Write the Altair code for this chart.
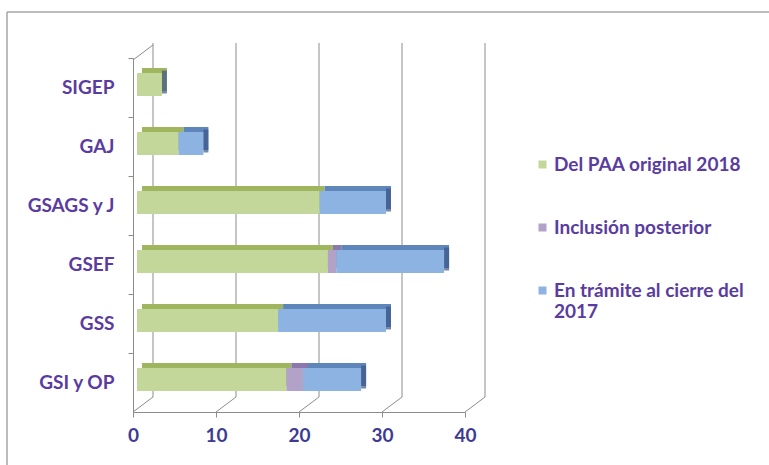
import altair as alt
import pandas as pd

categories = ["SIGEP", "GAJ", "GSAGS y J", "GSEF", "GSS", "GSI y OP"]
series = ["Del PAA original 2018", "Inclusión posterior", "En trámite al cierre del 2017"]
paa_original = [3, 5, 22, 23, 17, 18]
inclusion_posterior = [0, 0, 0, 1, 0, 2]
en_tramite = [0, 3, 8, 13, 13, 7]
x_ticks = [0, 10, 20, 30, 40]

front_colors = ["#c4d79b", "#b3a2c7", "#8db3e2"]
top_colors = ["#9fb55e", "#8c78ad", "#5f86ba"]
cap_color = "#3d5687"
text_color = "#5a3ca0"
FONT = "Lato"

rows = []
for i, c in enumerate(categories):
    for k, (s, vals) in enumerate(zip(series, [paa_original, inclusion_posterior, en_tramite])):
        rows.append({"cat": c, "serie": s, "val": vals[i], "ord": k})
df = pd.DataFrame(rows)
totals = pd.DataFrame({
    "cat": categories,
    "total": [a + b + c for a, b, c in zip(paa_original, inclusion_posterior, en_tramite)],
})
ticks_df = pd.DataFrame({"t": x_ticks})

W, H = 332, 354
DX, DY = 20, -15      # depth of back wall
BX, BY = 4, -3        # bar plane offset
EX, EY = 5, -5        # bar extrusion

xscale = alt.Scale(domain=[0, 40], nice=False, zero=True)
yscale = alt.Scale(domain=categories, paddingInner=0, paddingOuter=0)

# frame border
frame_top = alt.Chart(ticks_df.head(1)).mark_rule(color="#a6a6a6", strokeWidth=1.5).encode(
    x=alt.value(-126), x2=alt.value(W + 400), y=alt.value(-46))
frame_left = alt.Chart(ticks_df.head(1)).mark_rule(color="#a6a6a6", strokeWidth=1.5).encode(
    x=alt.value(-126), y=alt.value(-46), y2=alt.value(H + 80))

# back wall gridlines
back_grid = alt.Chart(ticks_df).mark_rule(color="#8c8c8c", strokeWidth=1, xOffset=DX).encode(
    x=alt.X("t:Q", scale=xscale),
    y=alt.value(DY),
    y2=alt.value(H + DY),
)
# floor diagonals
floor_diag = alt.Chart(ticks_df).mark_rule(color="#8c8c8c", strokeWidth=1, x2Offset=DX).encode(
    x=alt.X("t:Q", scale=xscale),
    x2="t:Q",
    y=alt.value(H),
    y2=alt.value(H + DY),
)
top_diag = alt.Chart(ticks_df.head(1)).mark_rule(color="#8c8c8c", strokeWidth=1).encode(
    x=alt.value(0), x2=alt.value(DX), y=alt.value(2), y2=alt.value(2 + DY))

color_back = alt.Color("serie:N", scale=alt.Scale(domain=series, range=top_colors), legend=None)
color_front = alt.Color(
    "serie:N",
    scale=alt.Scale(domain=series, range=front_colors),
    legend=alt.Legend(
        title=None,
        orient="none",
        legendX=400,
        legendY=97,
        symbolType="square",
        symbolSize=64,
        symbolStrokeWidth=0,
        labelFont=FONT,
        labelFontSize=19,
        labelFontWeight="bold",
        labelColor=text_color,
        labelOffset=2,
        labelLimit=300,
        rowPadding=43,
        padding=0,
        labelExpr="datum.label == 'En trámite al cierre del 2017' ? ['En trámite al cierre del', '2017'] : datum.label",
    ),
)

base = alt.Chart(df)
y_enc = alt.Y(
    "cat:N",
    scale=yscale,
    sort=categories,
    axis=alt.Axis(
        title=None,
        labelFont=FONT,
        labelFontSize=19,
        labelFontWeight="bold",
        labelColor=text_color,
        labelPadding=14,
        tickSize=5,
        tickColor="#8c8c8c",
        domainColor="#8c8c8c",
        bandPosition=0,
        grid=False,
    ),
)
x_enc = alt.X(
    "sum(val):Q",
    scale=xscale,
    stack="zero",
    axis=alt.Axis(
        title=None,
        values=x_ticks,
        labelFont=FONT,
        labelFontSize=19,
        labelFontWeight="bold",
        labelColor="#3d3a94",
        labelPadding=9,
        labelFlush=False,
        tickSize=5,
        tickColor="#8c8c8c",
        domainColor="#8c8c8c",
        grid=False,
    ),
)

bars_back = base.mark_bar(
    size=23, xOffset=BX + EX, x2Offset=BX + EX, yOffset=BY + EY, y2Offset=BY + EY
).encode(
    x=x_enc, y=y_enc, color=color_back, order=alt.Order("ord:Q")
)
caps = alt.Chart(totals).mark_tick(
    orient="vertical", thickness=EX, size=23, color=cap_color,
    xOffset=BX + EX / 2, yOffset=BY + EY / 2,
).encode(
    x=alt.X("total:Q", scale=xscale),
    y=alt.Y("cat:N", scale=yscale, sort=categories),
)
bars_front = base.mark_bar(
    size=23, xOffset=BX, x2Offset=BX, yOffset=BY, y2Offset=BY
).encode(
    x=x_enc, y=y_enc, color=color_front, order=alt.Order("ord:Q")
)

chart = alt.layer(
    frame_top, frame_left, back_grid, floor_diag, top_diag, bars_back, caps, bars_front
).resolve_scale(color="independent").properties(
    width=W,
    height=H,
    autosize=alt.AutoSizeParams(type="none"),
    padding={"left": 133, "top": 58, "right": 769 - 133 - W, "bottom": 465 - 58 - H},
    background="white",
).configure_view(stroke=None)

chart.save("out.html", embed_options={"renderer": "svg", "actions": False})
